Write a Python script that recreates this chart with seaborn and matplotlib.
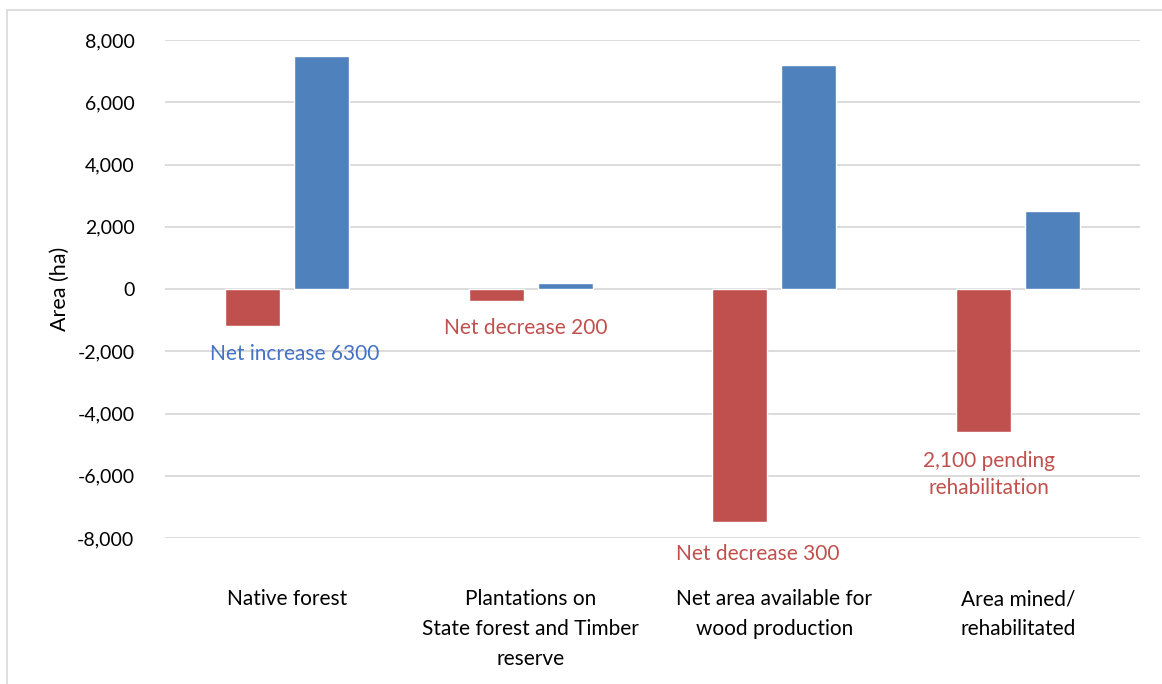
import pandas as pd
import seaborn as sns
import matplotlib.pyplot as plt
from matplotlib.patches import Rectangle

categories = ['Native forest',
              'Plantations on\nState forest and Timber\nreserve',
              'Net area available for\nwood production',
              'Area mined/\nrehabilitated']
decrease = [-1200, -400, -7500, -4600]
increase = [7500, 200, 7200, 2500]
notes = ['Net increase 6300', 'Net decrease 200', 'Net decrease 300',
         '2,100 pending\nrehabilitation']
note_x = [0.03, -0.02, -0.07, -0.12]
note_y = [-2100, -1250, -8500, -5950]
note_colors = ['#4472C4', '#C0504D', '#C0504D', '#C0504D']
y_ticks = list(range(-8000, 8001, 2000))

df = pd.DataFrame({
    'Category': categories * 2,
    'Area': decrease + increase,
    'Series': ['Decrease'] * 4 + ['Increase'] * 4,
})

sns.set_style('white')
plt.rcParams['font.family'] = ['Lato', 'DejaVu Sans']
plt.rcParams['text.color'] = 'black'
plt.rcParams['axes.labelcolor'] = 'black'
plt.rcParams['xtick.color'] = 'black'
plt.rcParams['ytick.color'] = 'black'

fig = plt.figure(figsize=(11.62, 6.84), dpi=100)
ax = fig.add_axes([165 / 1162, 1 - 538 / 684, 975 / 1162, 498 / 684])

palette = {'Decrease': '#C0504D', 'Increase': '#4F81BD'}
sns.barplot(data=df, x='Category', y='Area', hue='Series', palette=palette,
            width=0.566, gap=0.2, saturation=1, legend=False, ax=ax)

ax.set_ylim(-8000, 8000)
ax.set_xlim(-0.5, 3.5)
ax.set_yticks(y_ticks)
ax.set_yticklabels([f'{v:,}' for v in y_ticks])
ax.yaxis.grid(True, color='#D9D9D9', linewidth=1.3)
ax.set_axisbelow(True)
for s in ax.spines.values():
    s.set_visible(False)

ax.tick_params(axis='y', length=0, pad=22, labelsize=14)
ax.tick_params(axis='x', length=0, pad=37, labelsize=15)
for lbl in ax.get_xticklabels():
    lbl.set_multialignment('center')
    lbl.set_linespacing(1.62)
ax.set_xlabel('')
ax.set_ylabel('Area (ha)', fontsize=15.5, labelpad=5)

for i, (t, dx, y, c) in enumerate(zip(notes, note_x, note_y, note_colors)):
    ax.text(i + dx, y, t, color=c, fontsize=15, ha='center', va='center',
            linespacing=1.45)

fig.patches.append(Rectangle((7 / 1162, -0.1), 1.2, 1 - 10 / 684 + 0.1,
                             transform=fig.transFigure, fill=False,
                             edgecolor='#D9D9D9', linewidth=1.2))

plt.savefig('out.png', dpi=100)
